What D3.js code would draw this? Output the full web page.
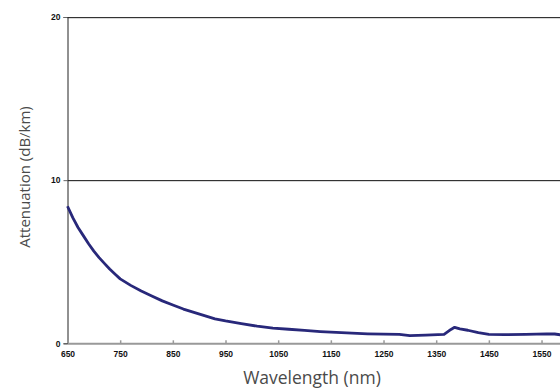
<!DOCTYPE html>
<html>
<head>
<meta charset="utf-8">
<script src="https://cdn.jsdelivr.net/npm/d3@7"></script>
<style>
  html, body { margin: 0; padding: 0; background: #fff; }
  svg { display: block; }
</style>
</head>
<body>
<div id="chart"></div>
<script>
// wavelength (nm) and attenuation (dB/km)
const wavelengths = [650, 660, 670, 680, 690, 700, 710, 720, 730, 740, 750, 770, 790, 810, 830, 850, 870, 890, 910, 930, 950, 980, 1010, 1040, 1070, 1100, 1130, 1160, 1190, 1220, 1250, 1280, 1300, 1330, 1365, 1378, 1385, 1395, 1410, 1430, 1450, 1480, 1520, 1560, 1575, 1590];
const attenuation = [8.4, 7.7, 7.1, 6.6, 6.1, 5.65, 5.25, 4.9, 4.55, 4.25, 3.95, 3.55, 3.2, 2.9, 2.6, 2.35, 2.1, 1.9, 1.7, 1.5, 1.37, 1.2, 1.05, 0.93, 0.86, 0.79, 0.72, 0.67, 0.62, 0.58, 0.56, 0.55, 0.47, 0.5, 0.55, 0.85, 0.98, 0.88, 0.8, 0.65, 0.55, 0.53, 0.55, 0.58, 0.57, 0.5];
const xTicks = [650, 750, 850, 950, 1050, 1150, 1250, 1350, 1450, 1550];
const yTicks = [0, 10, 20];

const width = 560, height = 388;
const svg = d3.select('#chart').append('svg')
  .attr('width', width)
  .attr('height', height);

const x = d3.scaleLinear().domain([650, 1650]).range([67.5, 594.2]);
const y = d3.scaleLinear().domain([0, 20]).range([343.3, 17]);

// horizontal grid lines at 10 and 20
svg.selectAll('.grid-shadow')
  .data(yTicks.filter(d => d > 0))
  .enter().append('line')
  .attr('x1', x(650)).attr('x2', width)
  .attr('y1', d => Math.round(y(d)) + 1.5).attr('y2', d => Math.round(y(d)) + 1.5)
  .attr('stroke', '#d8d8d8').attr('stroke-width', 1);
svg.selectAll('.grid')
  .data(yTicks.filter(d => d > 0))
  .enter().append('line')
  .attr('x1', x(650)).attr('x2', width)
  .attr('y1', d => Math.round(y(d)) + 0.5).attr('y2', d => Math.round(y(d)) + 0.5)
  .attr('stroke', '#333').attr('stroke-width', 1);

// y axis
const yAxis = svg.append('g')
  .attr('transform', 'translate(67.5,0)')
  .call(d3.axisLeft(y).tickValues(yTicks).tickSize(4).tickPadding(3));
yAxis.select('.domain').attr('stroke', '#222');
yAxis.selectAll('.tick line').attr('stroke', '#666');
yAxis.selectAll('text')
  .style('font-family', '"Liberation Sans", Arial, sans-serif')
  .style('font-weight', 'bold')
  .style('font-size', '8.5px')
  .attr('fill', '#111');

// x axis
const xAxis = svg.append('g')
  .attr('transform', 'translate(0,' + y(0) + ')')
  .call(d3.axisBottom(x).tickValues(xTicks).tickFormat(d3.format('d'))
    .tickSize(-3).tickPadding(8).tickSizeOuter(0));
xAxis.select('.domain').attr('stroke', '#999').attr('stroke-width', 2);
xAxis.selectAll('.tick line').attr('stroke', '#999').attr('stroke-width', 1.5);
xAxis.selectAll('text')
  .style('font-family', '"Liberation Sans", Arial, sans-serif')
  .style('font-weight', 'bold')
  .style('font-size', '8.5px')
  .attr('fill', '#111');

// attenuation curve
const line = d3.line()
  .x((d, i) => x(wavelengths[i]))
  .y(d => y(d));
svg.append('path')
  .datum(attenuation)
  .attr('d', line)
  .attr('fill', 'none')
  .attr('stroke', '#28287a')
  .attr('stroke-width', 2.8)
  .attr('stroke-linejoin', 'round');

// axis titles
svg.append('text')
  .attr('x', 312).attr('y', 384)
  .attr('text-anchor', 'middle')
  .style('font-family', '"Open Sans", sans-serif')
  .style('font-size', '17.5px')
  .attr('fill', '#4a4a4a')
  .text('Wavelength (nm)');
svg.append('text')
  .attr('transform', 'translate(30,177) rotate(-90)')
  .attr('text-anchor', 'middle')
  .style('font-family', '"Open Sans", sans-serif')
  .style('font-size', '15px')
  .attr('fill', '#4a4a4a')
  .text('Attenuation (dB/km)');
</script>
</body>
</html>
